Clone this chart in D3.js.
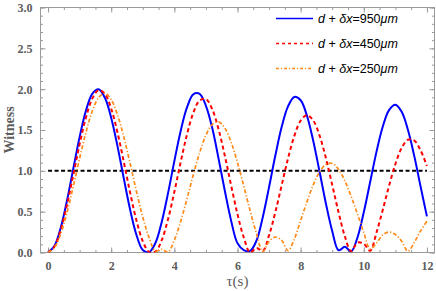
<!DOCTYPE html>
<html>
<head>
<meta charset="utf-8">
<script src="https://cdn.jsdelivr.net/npm/d3@7"></script>
<style>
body { margin: 0; background: #fff; }
</style>
</head>
<body>
<div id="chart"></div>
<script>
var width = 436,
    height = 291;

// time axis (s)
var tau = [0, 0.2, 0.4, 0.6, 0.8, 1.0, 1.2, 1.4, 1.6, 1.8,
           2.0, 2.2, 2.4, 2.6, 2.8, 3.0, 3.2, 3.4, 3.6, 3.8,
           4.0, 4.2, 4.4, 4.6, 4.8, 5.0, 5.2, 5.4, 5.6, 5.8,
           6.0, 6.2, 6.4, 6.6, 6.8, 7.0, 7.2, 7.4, 7.6, 7.8,
           8.0, 8.2, 8.4, 8.6, 8.8, 9.0, 9.2, 9.4, 9.6, 9.8,
           10.0, 10.2, 10.4, 10.6, 10.8, 11.0, 11.2, 11.4, 11.6, 11.8,
           12.0];

// witness, d + dx = 950 um
var w950 = [0, 0.079, 0.303, 0.638, 1.029, 1.416, 1.737, 1.942, 1.998, 1.894,
            1.648, 1.300, 0.904, 0.522, 0.215, 0.030, 0.004, 0.117, 0.374, 0.727,
            1.119, 1.489, 1.776, 1.936, 1.943, 1.796, 1.524, 1.150, 0.753, 0.387,
            0.113, 0.030, 0.019, 0.144, 0.432, 0.801, 1.190, 1.539, 1.789, 1.905,
            1.864, 1.674, 1.366, 0.988, 0.600, 0.263, 0.028, 0.069, 0.013, 0.184,
            0.492, 0.860, 1.229, 1.540, 1.744, 1.810, 1.724, 1.499, 1.180, 0.807,
            0.442];

// d + dx = 450 um
var w450 = [0, 0.072, 0.276, 0.586, 0.953, 1.327, 1.654, 1.884, 1.987, 1.942,
            1.760, 1.467, 1.107, 0.730, 0.391, 0.137, 0.005, 0.010, 0.151, 0.408,
            0.743, 1.106, 1.445, 1.710, 1.862, 1.879, 1.753, 1.509, 1.182, 0.818,
            0.469, 0.183, 0.001, 0.056, 0.019, 0.213, 0.496, 0.825, 1.152, 1.428,
            1.614, 1.681, 1.616, 1.432, 1.156, 0.828, 0.494, 0.199, 0.015, 0.121,
            0.107, 0.021, 0.242, 0.521, 0.815, 1.081, 1.280, 1.381, 1.371, 1.250,
            1.060];

// d + dx = 250 um
var w250 = [0, 0.058, 0.229, 0.491, 0.812, 1.153, 1.472, 1.730, 1.896, 1.950,
            1.872, 1.685, 1.412, 1.087, 0.747, 0.433, 0.181, 0.017, 0.040, 0.006,
            0.153, 0.380, 0.658, 0.951, 1.221, 1.436, 1.567, 1.600, 1.521, 1.347,
            1.101, 0.811, 0.511, 0.234, 0.011, 0.135, 0.190, 0.148, 0.023, 0.165,
            0.390, 0.621, 0.829, 0.988, 1.078, 1.090, 1.019, 0.878, 0.687, 0.472,
            0.244, 0.044, 0.114, 0.214, 0.250, 0.221, 0.138, 0.017, 0.124, 0.265,
            0.385];

var legendValues = ["950", "450", "250"];
var threshold = 1.0;

var xTicks = [0, 2, 4, 6, 8, 10, 12],
    yTicks = [0, 0.5, 1.0, 1.5, 2.0, 2.5, 3.0],
    yTickLabels = ["0.0", "0.5", "1.0", "1.5", "2.0", "2.5", "3.0"];

var plotLeft = 40.5, plotRight = 434.5, plotTop = 7.5, plotBottom = 252.5;
var frameColor = "#9a9a9a",
    labelColor = "#5c5c5c";

var x = d3.scaleLinear().domain([-0.24, 12.24]).range([plotLeft, plotRight]);
var y = d3.scaleLinear().domain([0, 3]).range([plotBottom, plotTop]);

var svg = d3.select("#chart")
    .append("svg")
    .attr("width", width)
    .attr("height", height);

svg.append("defs").append("clipPath").attr("id", "plot-clip")
    .append("rect")
    .attr("x", plotLeft).attr("y", plotTop)
    .attr("width", plotRight - plotLeft).attr("height", plotBottom - plotTop);

// minor ticks
var xMinor = d3.range(0, 12.01, 0.5),
    yMinor = d3.range(0, 3.001, 0.1);

function styleAxis(g){
    g.select(".domain").remove();
    g.selectAll(".tick line").attr("stroke", frameColor).attr("stroke-width", 1);
}

svg.append("g").attr("transform", "translate(0," + plotBottom + ")")
    .call(d3.axisBottom(x).tickValues(xMinor).tickSize(-2.5).tickFormat(""))
    .call(styleAxis);
svg.append("g").attr("transform", "translate(0," + plotTop + ")")
    .call(d3.axisTop(x).tickValues(xMinor).tickSize(-2.5).tickFormat(""))
    .call(styleAxis);
svg.append("g").attr("transform", "translate(" + plotLeft + ",0)")
    .call(d3.axisLeft(y).tickValues(yMinor).tickSize(-2.5).tickFormat(""))
    .call(styleAxis);
svg.append("g").attr("transform", "translate(" + plotRight + ",0)")
    .call(d3.axisRight(y).tickValues(yMinor).tickSize(-2.5).tickFormat(""))
    .call(styleAxis);

// major ticks with labels
svg.append("g").attr("transform", "translate(0," + plotBottom + ")")
    .call(d3.axisBottom(x).tickValues(xTicks).tickSize(-5).tickPadding(9)
        .tickFormat(function(d){ return String(d); }))
    .call(styleAxis);
svg.append("g").attr("transform", "translate(0," + plotTop + ")")
    .call(d3.axisTop(x).tickValues(xTicks).tickSize(-5).tickFormat(""))
    .call(styleAxis);
svg.append("g").attr("transform", "translate(" + plotLeft + ",0)")
    .call(d3.axisLeft(y).tickValues(yTicks).tickSize(-5).tickPadding(8)
        .tickFormat(function(d, i){ return yTickLabels[i]; }))
    .call(styleAxis);
svg.append("g").attr("transform", "translate(" + plotRight + ",0)")
    .call(d3.axisRight(y).tickValues(yTicks).tickSize(-5).tickFormat(""))
    .call(styleAxis);

svg.selectAll(".tick text")
    .attr("fill", labelColor)
    .style("font-family", "'Liberation Serif', 'Times New Roman', serif")
    .style("font-weight", "bold")
    .style("font-size", "12px");

// frame
svg.append("rect")
    .attr("x", plotLeft).attr("y", plotTop)
    .attr("width", plotRight - plotLeft).attr("height", plotBottom - plotTop)
    .attr("fill", "none")
    .attr("stroke", frameColor)
    .attr("stroke-width", 1);

// axis titles
svg.append("text")
    .attr("transform", "translate(13.5," + (plotTop + plotBottom) / 2 + ") rotate(-90)")
    .attr("text-anchor", "middle")
    .attr("fill", labelColor)
    .style("font-family", "'Liberation Serif', 'Times New Roman', serif")
    .style("font-weight", "bold")
    .style("font-size", "14px")
    .text("Witness");

svg.append("text")
    .attr("x", (plotLeft + plotRight) / 2)
    .attr("y", 286)
    .attr("text-anchor", "middle")
    .attr("fill", labelColor)
    .style("font-family", "'Liberation Serif', 'Times New Roman', serif")
    .style("font-size", "15px")
    .text("τ(s)");

var plot = svg.append("g").attr("clip-path", "url(#plot-clip)");

// threshold line
plot.append("line")
    .attr("x1", x(0)).attr("x2", x(12))
    .attr("y1", y(threshold)).attr("y2", y(threshold))
    .attr("stroke", "#000")
    .attr("stroke-width", 2)
    .attr("stroke-dasharray", "4,2.5");

var series = [
    {values: w950, color: "#0000ff", dash: null, width: 2, legendDash: null},
    {values: w450, color: "#ff0000", dash: "4,3", width: 2, legendDash: "3,3"},
    {values: w250, color: "#ff8a1a", dash: "4,2,1.2,2", width: 1.7, legendDash: "3,2,1,2"}
];

var line = d3.line()
    .x(function(d){ return x(d[0]); })
    .y(function(d){ return y(d[1]); })
    .curve(d3.curveCatmullRom.alpha(0.5));

series.forEach(function(s){
    plot.append("path")
        .datum(tau.map(function(t, i){ return [t, s.values[i]]; }))
        .attr("fill", "none")
        .attr("stroke", s.color)
        .attr("stroke-width", s.width)
        .attr("stroke-dasharray", s.dash)
        .attr("d", line);
});

// legend
var legendY = [18.5, 43.5, 68.5];
series.forEach(function(s, i){
    var row = svg.append("g").attr("transform", "translate(0," + legendY[i] + ")");
    row.append("line")
        .attr("x1", 276).attr("x2", 313)
        .attr("y1", 0).attr("y2", 0)
        .style("stroke", s.color)
        .style("stroke-width", 1.6)
        .style("stroke-dasharray", s.legendDash);
    var label = row.append("text")
        .attr("x", 318).attr("y", 4.5)
        .style("font-family", "'Liberation Sans', Arial, sans-serif")
        .style("font-size", "12.5px")
        .attr("fill", "#000");
    label.append("tspan").style("font-style", "italic").text("d");
    label.append("tspan").text(" + ");
    label.append("tspan").style("font-style", "italic").text("δx");
    label.append("tspan").text("=" + legendValues[i]);
    label.append("tspan").style("font-style", "italic").text("μm");
});
</script>
</body>
</html>
